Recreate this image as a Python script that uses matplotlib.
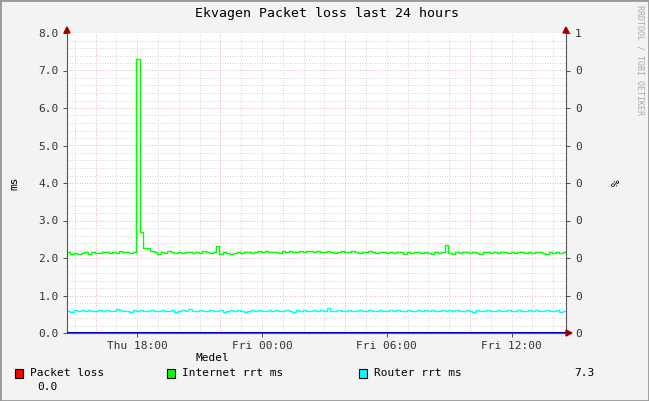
import matplotlib
matplotlib.use("Agg")
import matplotlib.pyplot as plt
from matplotlib.patches import Rectangle
import numpy as np

title = "Ekvagen Packet loss last 24 hours"
start_h = 14.62  # hours since Thu 00:00
step_h = 1/6.0
tick_pos = [18, 24, 30, 36]
tick_labels = ["Thu 18:00", "Fri 00:00", "Fri 06:00", "Fri 12:00"]

internet = [2.15,2.12,2.14,2.10,2.13,2.15,2.12,2.16,2.14,2.13,2.15,2.17,2.14,2.16,2.13,2.18,2.15,2.17,2.14,2.16,
            7.30,2.70,2.28,2.28,2.18,2.15,2.12,2.16,2.14,2.18,2.15,2.13,2.16,2.14,2.17,2.15,2.13,2.16,2.14,2.18,
            2.15,2.13,2.16,2.32,2.12,2.15,2.13,2.10,2.14,2.16,2.13,2.15,2.17,2.14,2.16,2.18,2.15,2.19,2.17,2.15,
            2.17,2.14,2.18,2.16,2.19,2.17,2.15,2.18,2.16,2.20,2.18,2.16,2.19,2.17,2.15,2.18,2.16,2.14,2.17,2.19,
            2.17,2.15,2.18,2.16,2.14,2.17,2.15,2.18,2.16,2.14,2.17,2.15,2.13,2.16,2.14,2.17,2.15,2.12,2.16,2.14,
            2.17,2.15,2.13,2.16,2.14,2.12,2.15,2.13,2.16,2.36,2.14,2.12,2.16,2.14,2.17,2.15,2.13,2.16,2.14,2.12,
            2.15,2.17,2.14,2.16,2.13,2.15,2.17,2.14,2.16,2.13,2.15,2.17,2.14,2.16,2.13,2.15,2.17,2.14,2.12,2.15,
            2.13,2.16,2.14,2.15]
router = [0.60,0.57,0.61,0.59,0.62,0.60,0.61,0.58,0.60,0.62,0.59,0.61,0.60,0.58,0.65,0.61,0.59,0.60,0.57,0.62,
          0.60,0.61,0.59,0.60,0.62,0.58,0.60,0.61,0.59,0.60,0.62,0.57,0.60,0.61,0.59,0.64,0.60,0.58,0.61,0.59,
          0.60,0.62,0.58,0.60,0.61,0.57,0.60,0.62,0.59,0.61,0.60,0.56,0.60,0.61,0.59,0.62,0.58,0.60,0.61,0.59,
          0.62,0.60,0.58,0.61,0.60,0.57,0.61,0.59,0.62,0.60,0.58,0.61,0.59,0.62,0.60,0.66,0.60,0.58,0.61,0.59,
          0.60,0.62,0.58,0.60,0.61,0.59,0.60,0.62,0.58,0.60,0.61,0.59,0.60,0.62,0.58,0.61,0.60,0.59,0.61,0.60,
          0.58,0.61,0.60,0.62,0.59,0.61,0.60,0.58,0.61,0.60,0.62,0.59,0.61,0.60,0.58,0.61,0.60,0.57,0.61,0.59,
          0.60,0.62,0.58,0.60,0.61,0.59,0.60,0.62,0.58,0.60,0.61,0.59,0.60,0.62,0.58,0.61,0.60,0.59,0.61,0.60,
          0.58,0.61,0.55,0.60]
packet_loss = [0.0]*len(internet)

W, H = 649, 401
fig = plt.figure(figsize=(W/100, H/100), dpi=100)
fig.patch.set_facecolor("#F3F3F3")
mono = "DejaVu Sans Mono"
fs = 8

ax = fig.add_axes([67/W, (H-333)/H, 499/W, 300/H])
ax.set_facecolor("white")
n = len(internet)
x = start_h + np.arange(n+1)*step_h
ax.step(x, internet+[internet[-1]], where="post", color="#00FF00", lw=1)
ax.step(x, router+[router[-1]], where="post", color="#00FFFF", lw=1)
ax.step(x, packet_loss+[0], where="post", color="#0000CC", lw=1.5, zorder=5)
ax.set_xlim(start_h, start_h+24)
ax.set_ylim(0, 8)

# grid
for yv in np.arange(0.2, 8.0, 0.2):
    major = abs(yv - round(yv)) < 1e-6
    ax.axhline(yv, color="#E0A0A0" if major else "#C8C8C8", lw=0.6, ls=(0, (1, 2)), zorder=0)
for hv in range(15, 39):
    major = (hv - 16) % 6 == 0
    ax.axvline(hv, color="#E0A0A0" if major else "#C8C8C8", lw=0.6, ls=(0, (1, 2)), zorder=0)

ax.set_yticks(np.arange(0, 9, 1))
ax.set_yticklabels([f"{v:.1f}" for v in range(9)], fontfamily=mono, fontsize=fs)
ax.set_xticks(tick_pos)
ax.set_xticklabels(tick_labels, fontfamily=mono, fontsize=fs)
ax.tick_params(length=3, width=0.6, colors="#333333", pad=3)
for s in ["top", "right"]:
    ax.spines[s].set_visible(False)
for s in ["left", "bottom"]:
    ax.spines[s].set_color("#555555")
ax.set_ylabel("ms", fontfamily=mono, fontsize=fs, labelpad=14)

ax2 = ax.twinx()
ax2.set_ylim(0, 8)
ax2.set_yticks(np.arange(0, 9, 1))
ax2.set_yticklabels(["0"]*8 + ["1"], fontfamily=mono, fontsize=fs)
ax2.tick_params(length=3, width=0.6, colors="#333333")
for s in ["top", "left", "bottom"]:
    ax2.spines[s].set_visible(False)
ax2.spines["right"].set_color("#555555")
ax2.set_ylabel("%", fontfamily=mono, fontsize=fs, labelpad=22)

# arrows
fig.patches.append(plt.Polygon([[64/W, 1-33/H], [70/W, 1-33/H], [67/W, 1-27/H]], closed=True,
                               transform=fig.transFigure, color="#A00000"))
fig.patches.append(plt.Polygon([[563/W, 1-33/H], [569/W, 1-33/H], [566/W, 1-27/H]], closed=True,
                               transform=fig.transFigure, color="#A00000"))
fig.patches.append(plt.Polygon([[566/W, 1-330/H], [566/W, 1-336/H], [572/W, 1-333/H]], closed=True,
                               transform=fig.transFigure, color="#A00000"))

fig.text(327/W, 1-14/H, title, ha="center", va="center", fontfamily=mono, fontsize=9.5)
fig.text(640/W, 1-60/H, "RRDTOOL / TOBI OETIKER", rotation=270, ha="center", va="center",
         fontfamily=mono, fontsize=6, color="#AAAAAA")

fig.text(195/W, 1-358/H, "Medel", ha="left", va="center", fontfamily=mono, fontsize=fs)
legend = [(15, "#FF0000", "Packet loss"), (167, "#00FF00", "Internet rrt ms"), (359, "#00FFFF", "Router rrt ms")]
for lx, c, lbl in legend:
    fig.patches.append(Rectangle((lx/W, 1-378/H), 8/W, 9/H, transform=fig.transFigure,
                                 facecolor=c, edgecolor="black", lw=0.8))
    fig.text((lx+15)/W, 1-373/H, lbl, ha="left", va="center", fontfamily=mono, fontsize=fs)
fig.text(594/W, 1-373/H, "7.3", ha="right", va="center", fontfamily=mono, fontsize=fs)
fig.text(58/W, 1-387/H, "0.0", ha="right", va="center", fontfamily=mono, fontsize=fs)

fig.patches.append(Rectangle((0, 0), 1, 1, transform=fig.transFigure, fill=False,
                             edgecolor="#999999", lw=2))
fig.savefig("out.png", dpi=100, facecolor=fig.get_facecolor())
